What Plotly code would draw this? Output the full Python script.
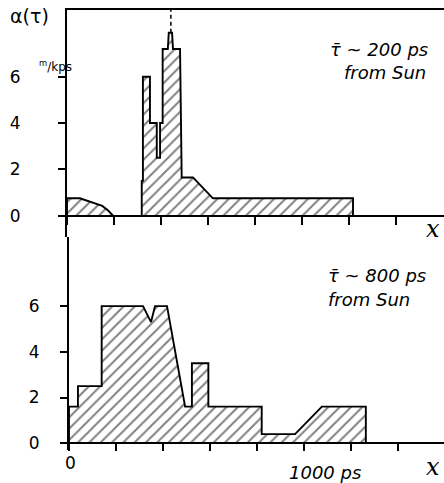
import plotly.graph_objects as go

# ---- data (ps, m/kps) ----
top_hump_x = [0, 0, 55, 111, 150, 175, 196]
top_hump_y = [0, 0.75, 0.75, 0.57, 0.42, 0.22, 0]

top_main_x = [318, 318, 323, 323, 353, 353, 382, 382, 396, 396, 407, 407,
              429, 433, 447, 451, 481, 488, 536, 621, 1217, 1217]
top_main_y = [0, 1.5, 1.5, 6.0, 6.0, 4.0, 4.0, 2.5, 2.5, 4.0, 4.0, 7.2,
              7.2, 7.9, 7.9, 7.2, 7.2, 1.65, 1.65, 0.75, 0.75, 0]

peak_x = [442, 442]
peak_y = [7.9, 8.9]

bot_x = [0, 0, 38, 38, 139, 139, 315, 349, 366, 417, 494, 523, 523, 593, 593,
         820, 820, 962, 1076, 1263, 1263]
bot_y = [0, 1.6, 1.6, 2.5, 2.5, 6.0, 6.0, 5.3, 6.0, 6.0, 1.6, 1.6, 3.5, 3.5, 1.6,
         1.6, 0.4, 0.4, 1.6, 1.6, 0]

y_ticks = [0, 2, 4, 6]
x_ticks = [0, 200, 400, 600, 800, 1000, 1200, 1400]

W, H = 444, 483
FONT = "DejaVu Sans"

pat = dict(shape="/", fgcolor="black", bgcolor="white", size=8, solidity=0.24)
line = dict(color="black", width=1.9)

fig = go.Figure()
for xs, ys, xa, ya in [(top_hump_x, top_hump_y, "x", "y"),
                       (top_main_x, top_main_y, "x", "y"),
                       (bot_x, bot_y, "x2", "y2")]:
    fig.add_trace(go.Scatter(x=xs, y=ys, xaxis=xa, yaxis=ya, mode="lines",
                             fill="toself", fillcolor="white", fillpattern=pat,
                             line=line, hoverinfo="skip", showlegend=False))
fig.add_trace(go.Scatter(x=peak_x, y=peak_y, xaxis="x", yaxis="y", mode="lines",
                         line=dict(color="black", width=1.5, dash="4px,3px"),
                         showlegend=False, hoverinfo="skip"))
fig.add_trace(go.Scatter(x=[None], y=[None], xaxis="x3", yaxis="y", showlegend=False))


def py(p):
    return 1 - p / H


top_dom = [py(238), py(10)]
bot_dom = [py(453), py(238)]

ax_common = dict(showgrid=False, zeroline=False, showline=True, linecolor="black",
                 linewidth=1.9, ticks="outside", tickcolor="black", tickwidth=1.9)

fig.update_layout(
    width=W, height=H, margin=dict(l=0, r=0, t=0, b=0),
    paper_bgcolor="white", plot_bgcolor="white",
    font=dict(family=FONT, size=17, color="black"),
    xaxis=dict(**ax_common, domain=[67 / W, 1], range=[0, (W - 67) * 4.255],
               anchor="free", position=py(217), tickvals=x_ticks, ticklen=8,
               showticklabels=False),
    yaxis=dict(**ax_common, domain=top_dom, anchor="x",
               range=[(217 - 238) / 23.3, (217 - 10) / 23.3],
               tickvals=y_ticks, ticklen=7, ticklabelstandoff=34),
    xaxis3=dict(domain=[67 / W, 1], range=[0, (W - 67) * 4.255], overlaying="x",
                side="top", anchor="y", showline=True, linecolor="black", linewidth=1.9,
                showgrid=False, zeroline=False, showticklabels=False, ticks=""),
    xaxis2=dict(**ax_common, domain=[69 / W, 1], range=[0, (W - 69) * 4.255],
                anchor="free", position=py(446), tickvals=x_ticks, ticklen=7,
                showticklabels=False),
    yaxis2=dict(**ax_common, domain=bot_dom, anchor="x2",
                range=[(446 - 453) / 23, (446 - 238) / 23],
                tickvals=y_ticks, ticklen=7, ticklabelstandoff=17),
)

ann_font = dict(family="DejaVu Sans", size=18, color="black")
anns = [
    dict(text="α(τ)", x=8, y=3, font=dict(family=FONT, size=19)),
    dict(text="<sup>m</sup>/kps", x=37, y=56, font=dict(family=FONT, size=12)),
    dict(text="<i>τ̄ ~ 200 ps</i>", x=328, y=37, font=ann_font),
    dict(text="<i>from Sun</i>", x=342, y=60, font=ann_font),
    dict(text="<i>τ̄ ~ 800 ps</i>", x=326, y=265, font=ann_font),
    dict(text="<i>from Sun</i>", x=326, y=289, font=ann_font),
    dict(text="0", x=63, y=454, font=dict(family=FONT, size=17)),
    dict(text="<i>1000 ps</i>", x=287, y=463, font=ann_font),
    dict(text="<i>x</i>", x=424, y=214, font=dict(family="DejaVu Serif", size=24)),
    dict(text="<i>x</i>", x=424, y=454, font=dict(family="DejaVu Serif", size=24)),
]
for a in anns:
    fig.add_annotation(text=a["text"], x=a["x"] / W, y=py(a["y"]), xref="paper", yref="paper",
                       xanchor="left", yanchor="top", showarrow=False, font=a["font"])

fig.write_html("out.html", config={"displayModeBar": False},
               post_script="document.body.style.margin='0';document.body.style.overflow='hidden';")
